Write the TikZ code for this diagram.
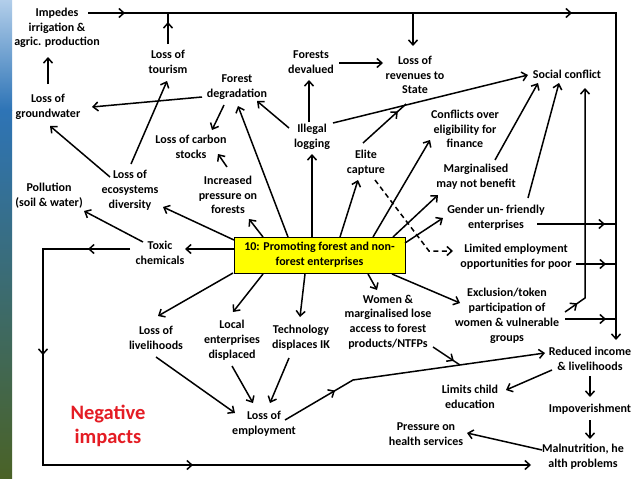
\documentclass[tikz,border=0pt]{standalone}
\usepackage{fontspec}
\setmainfont{Carlito}
\usetikzlibrary{arrows.meta,calc,decorations.markings}
\definecolor{negred}{RGB}{228,28,36}
\definecolor{stripA}{RGB}{178,206,234}
\definecolor{stripB}{RGB}{46,116,182}
\definecolor{stripC}{RGB}{48,98,108}
\definecolor{stripD}{RGB}{74,98,38}
\definecolor{boxyellow}{RGB}{255,255,0}
\begin{document}
\begin{tikzpicture}[x=1pt,y=-1pt,
  >={Straight Barb[length=5pt,width=9pt]},
  lbl/.style={align=center,font=\fontsize{12}{14.8}\selectfont\bfseries,inner sep=0pt},
  con/.style={line width=1.5pt},
  arr/.style={con,->},
  mk/.style={postaction={decorate,decoration={markings,mark=at position #1 with {\arrow{>}}}}},
  dsh/.style={dash pattern=on 5pt off 3.5pt}]
\useasboundingbox (0,0) rectangle (638,479);
\fill[white] (0,0) rectangle (638,479);
\shade[top color=stripA,bottom color=stripB] (0,0) rectangle (12,110);
\shade[top color=stripB,middle color=stripC,bottom color=stripD] (0,110) rectangle (12,479);

% nodes
\node[lbl] (imp) at (57,28) {Impedes\\irrigation \&\\agric. production};
\node[lbl] (tour) at (168,62) {Loss of\\tourism};
\node[lbl] (fdev) at (311,62) {Forests\\devalued};
\node[lbl] (rev) at (415,75) {Loss of\\revenues to\\State};
\node[lbl] (soc) at (567,74) {Social conflict};
\node[lbl] (fdeg) at (237,87) {Forest\\degradation};
\node[lbl] (gw) at (48,107) {Loss of\\groundwater};
\node[lbl] (carb) at (191,147) {Loss of carbon\\stocks};
\node[lbl] (ill) at (312,137) {Illegal\\logging};
\node[lbl] (conf) at (465,129) {Conflicts over\\eligibility for\\finance};
\node[lbl] (elite) at (366,163) {Elite\\capture};
\node[lbl] (eco) at (130,190) {Loss of\\ecosystems\\diversity};
\node[lbl] (press) at (228,195) {Increased\\pressure on\\forests};
\node[lbl] (poll) at (49,196) {Pollution\\(soil \& water)};
\node[lbl] (marg) at (476,177) {Marginalised\\may not benefit};
\node[lbl] (gend) at (496,218) {Gender un- friendly\\enterprises};
\node[lbl] (tox) at (160,253) {Toxic\\chemicals};
\node[lbl,draw=black,line width=0.8pt,fill=boxyellow,minimum width=171pt,minimum height=36pt] (box) at (319.5,255) {10: Promoting forest and non-\\forest enterprises};
\node[lbl] (lim) at (516,257) {Limited employment\\opportunities for poor};
\node[lbl] (excl) at (507,316) {Exclusion/token\\participation of\\women \& vulnerable\\groups};
\node[lbl] (wom) at (388,322) {Women \&\\marginalised lose\\access to forest\\products/NTFPs};
\node[lbl] (liv) at (156,338) {Loss of\\livelihoods};
\node[lbl] (loc) at (232,340) {Local\\enterprises\\displaced};
\node[lbl] (tech) at (301,338) {Technology\\displaces IK};
\node[lbl] (red) at (590,359) {Reduced income\\\& livelihoods};
\node[lbl] (child) at (470,397) {Limits child\\education};
\node[lbl] (impov) at (590,409) {Impoverishment};
\node[align=center,font=\fontsize{20.5}{24.5}\selectfont\bfseries,text=negred,inner sep=0pt] (neg) at (108,426) {Negative\\impacts};
\node[lbl] (emp) at (264,424) {Loss of\\employment};
\node[lbl] (health) at (426,434) {Pressure on\\health services};
\node[lbl] (mal) at (583,457) {Malnutrition, he\\alth problems};

% top frame and right frame
\draw[arr,mk=37pt,mk=484pt] ($(imp)+(31,-15)$) -| ($(red)+(26,-19)$);
\draw[con,mk=22pt] ($(tour)+(0,-18)$) -- ++(0,-31);
\draw[arr] ($(rev)+(-2,-62)$) -- ($(rev)+(-2,-29)$);
\draw[arr,mk=15pt] ($(excl)+(58,-4)$) -- ($(excl)+(78,-18)$) -- ($(soc)+(18,14)$);
\draw[con,mk=68pt] ($(gend)+(41,6)$) -- ++(79,0);
\draw[con,mk=30pt] ($(lim)+(60,7)$) -- ++(40,0);
\draw[con,mk=41pt] ($(excl)+(58,3)$) -- ++(51,0);

% to social conflict
\draw[arr] ($(marg)+(19,-17)$) -- ($(soc)+(-29,9)$);
\draw[arr] ($(gend)+(32,-20)$) -- ($(soc)+(-8,9)$);
\draw[arr] ($(ill)+(21,-14)$) -- ($(soc)+(-39,1)$);
\draw[con,mk=47pt] ($(elite)+(-3,-20)$) -- ($(elite)+(40,-59)$);

% from box, right side
\draw[arr] ($(box)+(20.5,-18)$) -- ($(elite)+(-8,17)$);
\draw[arr] ($(box)+(53.5,-18)$) -- ($(conf)+(-35,11)$);
\draw[arr] ($(box)+(73.5,-18)$) -- ($(marg)+(-38,18)$);
\draw[arr] ($(box)+(85.5,-12)$) -- ($(gend)+(-53,0)$);
\draw[arr,dsh] ($(elite)+(9,17)$) -- ($(lim)+(-87,-6)$) -- ($(lim)+(-63,-6)$);

% upper left part
\draw[arr] ($(box)+(-31.5,-18)$) -- ($(fdeg)+(1,19)$);
\draw[arr] ($(box)+(-7.5,-18)$) -- ($(ill)+(0,17)$);
\draw[arr] ($(ill)+(-3,-15)$) -- ($(fdev)+(-2,18)$);
\draw[arr] ($(ill)+(-23,-9)$) -- ($(fdeg)+(20,14)$);
\draw[arr] ($(fdev)+(28,1)$) -- ($(rev)+(-32,-12)$);
\draw[arr] ($(fdeg)+(-35,10)$) -- ($(gw)+(44,0)$);
\draw[arr] ($(fdeg)+(-13,18)$) -- ($(carb)+(21,-17)$);
\draw[arr] ($(press)+(-1,-28)$) -- ($(carb)+(27,7)$);
\draw[arr] ($(box)+(-56.5,-18)$) -- ($(press)+(21,24)$);
\draw[arr] ($(eco)+(1,-26)$) -- ($(tour)+(-1,19)$);
\draw[arr] ($(eco)+(-20,-13)$) -- ($(gw)+(2,19)$);
\draw[arr] ($(box)+(-85.5,-15)$) -- ($(eco)+(33,17)$);
\draw[arr] ($(box)+(-85.5,-6)$) -- ($(tox)+(25,-4)$);
\draw[arr] ($(tox)+(-17,-11)$) -- ($(poll)+(35,15)$);
\draw[con,->,mk=42pt,mk=193pt,mk=453pt] ($(tox)+(-30,-4)$) -- ++(-87,0) |- ($(mal)+(-52,8)$);
\draw[arr] ($(gw)+(0,-23)$) -- ($(imp)+(-9,29)$);

% lower part
\draw[arr] ($(box)+(-86.5,18)$) -- ($(liv)+(2,-22)$);
\draw[arr] ($(box)+(-56.5,19)$) -- ($(loc)+(1,-28)$);
\draw[arr] ($(box)+(-14.5,19)$) -- ($(tech)+(-1,-21)$);
\draw[arr] ($(box)+(48.5,19)$) -- ($(wom)+(-11,-32)$);
\draw[arr] ($(box)+(72.5,19)$) -- ($(excl)+(-47,-13)$);
\draw[arr] ($(liv)+(0,19)$) -- ($(emp)+(-29,-11)$);
\draw[arr] ($(loc)+(0,26)$) -- ($(emp)+(-11,-21)$);
\draw[arr] ($(tech)+(-12,20)$) -- ($(emp)+(6,-21)$);
\draw[arr,mk=58pt] ($(emp)+(21,-4)$) -- ($(emp)+(89,-44)$) -- ($(red)+(-45,-6)$);
\draw[con,mk=25pt] ($(wom)+(45,25)$) -- ($(wom)+(72,43)$);
\draw[arr] ($(red)+(-38,11)$) -- ($(child)+(36,-7)$);
\draw[arr] ($(red)+(0,17)$) -- ($(impov)+(0,-12)$);
\draw[arr] ($(impov)+(0,11)$) -- ($(mal)+(7,-18)$);
\draw[arr] ($(mal)+(-41,-7)$) -- ($(health)+(41,-1)$);
\end{tikzpicture}
\end{document}
